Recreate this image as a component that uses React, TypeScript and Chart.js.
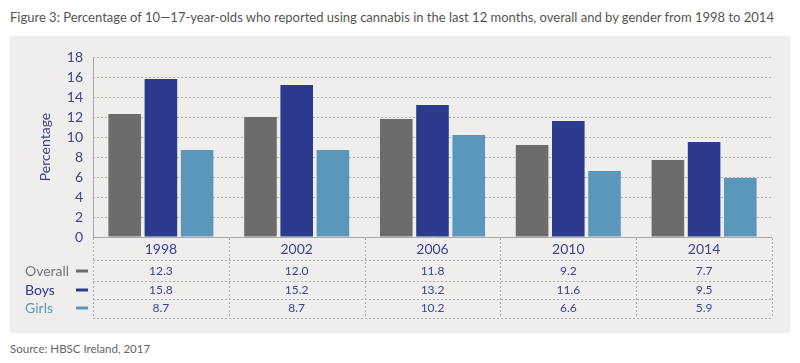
import React, { useEffect, useRef } from "react";
import { Chart, registerables } from "chart.js";

Chart.register(...registerables);

const years = ["1998", "2002", "2006", "2010", "2014"];
const overall = [12.3, 12.0, 11.8, 9.2, 7.7];
const boys = [15.8, 15.2, 13.2, 11.6, 9.5];
const girls = [8.7, 8.7, 10.2, 6.6, 5.9];
const seriesNames = ["Overall", "Boys", "Girls"];
const yTicksMax = 18;
const yStep = 2;

const COLORS = ["#6c6c6c", "#2c3a8e", "#5b97bb"];
const TEXT_BLUE = "#3c4592";
const FONT = "Lato, 'Noto Sans', sans-serif";

const tablePlugin = {
  id: "tablePlugin",
  afterDraw(chart: any) {
    const ctx = chart.ctx;
    const area = chart.chartArea;
    const n = years.length;
    const w = (area.right - area.left) / n;
    const rowLines = [224, 245, 263, 282];
    const rowY = [235, 254, 272];
    const yearY = 213;
    const data = [overall, boys, girls];
    ctx.save();
    // solid axes
    ctx.strokeStyle = "#a8a8a8";
    ctx.lineWidth = 1;
    ctx.beginPath();
    ctx.moveTo(area.left, Math.round(area.bottom) + 0.5);
    ctx.lineTo(area.right, Math.round(area.bottom) + 0.5);
    ctx.stroke();
    ctx.beginPath();
    ctx.moveTo(Math.round(area.left) + 0.5, area.top);
    ctx.lineTo(Math.round(area.left) + 0.5, area.bottom);
    ctx.stroke();
    // dotted table lines
    ctx.setLineDash([2, 2]);
    ctx.strokeStyle = "#b0b0b0";
    for (const y of rowLines) {
      ctx.beginPath();
      ctx.moveTo(area.left, y + 0.5);
      ctx.lineTo(area.right, y + 0.5);
      ctx.stroke();
    }
    for (let i = 0; i <= n; i++) {
      const x = Math.round(area.left + i * w) + 0.5;
      ctx.beginPath();
      ctx.moveTo(x, area.bottom + 1);
      ctx.lineTo(x, rowLines[rowLines.length - 1]);
      ctx.stroke();
    }
    ctx.setLineDash([]);
    // year labels
    ctx.textAlign = "center";
    ctx.textBaseline = "middle";
    ctx.fillStyle = TEXT_BLUE;
    ctx.font = `14px ${FONT}`;
    for (let i = 0; i < n; i++) {
      ctx.fillText(years[i], area.left + (i + 0.5) * w, yearY);
    }
    // values
    ctx.font = `12px ${FONT}`;
    for (let r = 0; r < data.length; r++) {
      for (let i = 0; i < n; i++) {
        ctx.fillText(data[r][i].toFixed(1), area.left + (i + 0.5) * w, rowY[r]);
      }
    }
    // legend labels
    ctx.textAlign = "left";
    ctx.font = `14px ${FONT}`;
    for (let r = 0; r < seriesNames.length; r++) {
      ctx.fillStyle = r === 0 ? "#777777" : COLORS[r];
      ctx.fillText(seriesNames[r], 15, rowY[r]);
      ctx.strokeStyle = COLORS[r];
      ctx.lineWidth = 3;
      ctx.beginPath();
      ctx.moveTo(66, rowY[r]);
      ctx.lineTo(78, rowY[r]);
      ctx.stroke();
    }
    ctx.restore();
  },
};

function ChartPanel() {
  const ref = useRef<HTMLCanvasElement>(null);
  useEffect(() => {
    if (!ref.current) return;
    const chart = new Chart(ref.current, {
      type: "bar",
      data: {
        labels: years,
        datasets: [
          { label: seriesNames[0], data: overall, backgroundColor: COLORS[0] },
          { label: seriesNames[1], data: boys, backgroundColor: COLORS[1] },
          { label: seriesNames[2], data: girls, backgroundColor: COLORS[2] },
        ],
      },
      options: {
        animation: false,
        responsive: false,
        maintainAspectRatio: false,
        datasets: { bar: { barPercentage: 0.9, categoryPercentage: 0.8 } },
        layout: { padding: { left: 27, right: 18, top: 21, bottom: 96 } },
        plugins: { legend: { display: false }, tooltip: { enabled: false } },
        scales: {
          x: { display: false },
          y: {
            min: 0,
            max: yTicksMax,
            ticks: {
              stepSize: yStep,
              color: TEXT_BLUE,
              font: { family: FONT, size: 14 },
              padding: 10,
            },
            grid: {
              color: (c: any) => (c.tick && c.tick.value === 0 ? "rgba(0,0,0,0)" : "#b4b4b4"),
              drawTicks: false,
            },
            border: { display: false, dash: [2, 2] },
            title: {
              display: true,
              text: "Percentage",
              color: TEXT_BLUE,
              font: { family: FONT, size: 14 },
              padding: { top: 0, bottom: 0 },
            },
            afterFit: (s: any) => {
              s.width = 56;
            },
          },
        },
      },
      plugins: [tablePlugin],
    } as any);
    return () => chart.destroy();
  }, []);
  return <canvas ref={ref} width={780} height={297} style={{ display: "block" }} />;
}

export default function App() {
  return (
    <div
      style={{
        position: "absolute",
        left: 0,
        top: 0,
        width: 800,
        height: 363,
        background: "#ffffff",
        fontFamily: FONT,
        overflow: "hidden",
      }}
    >
      <div
        style={{
          position: "absolute",
          left: 10,
          top: 9,
          fontSize: 13,
          color: "#555555",
          whiteSpace: "nowrap",
        }}
      >
        Figure 3: Percentage of 10—17-year-olds who reported using cannabis in the last 12 months, overall and by gender from 1998 to 2014
      </div>
      <div
        style={{
          position: "absolute",
          left: 10,
          top: 36,
          width: 780,
          height: 297,
          background: "#efeeed",
        }}
      >
        <ChartPanel />
      </div>
      <div
        style={{
          position: "absolute",
          left: 10,
          top: 342,
          fontSize: 11.5,
          color: "#666666",
          whiteSpace: "nowrap",
        }}
      >
        Source: HBSC Ireland, 2017
      </div>
    </div>
  );
}
